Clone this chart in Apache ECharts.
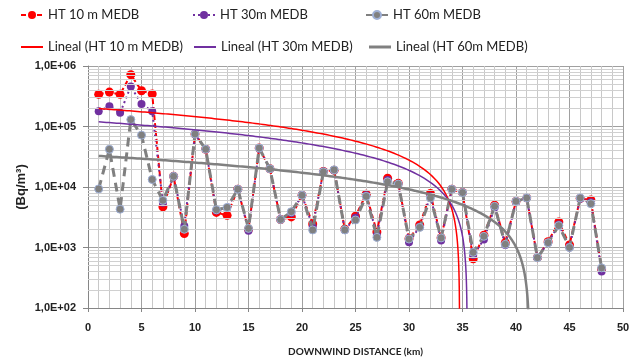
<!DOCTYPE html>
<html><head><meta charset="utf-8">
<script src="https://cdn.jsdelivr.net/npm/echarts@6/dist/echarts.min.js"></script>
<style>html,body{margin:0;padding:0;background:#fff}#c{width:638px;height:358px}</style>
</head><body><div id="c"></div>
<script>
// ---- data ----
const distance = [1,2,3,4,5,6,7,8,9,10,11,12,13,14,15,16,17,18,19,20,21,22,23,24,25,26,27,28,29,30,31,32,33,34,35,36,37,38,39,40,41,42,43,44,45,46,47,48];
const ht10 = [3.4e5,3.7e5,3.4e5,7.2e5,3.9e5,3.45e5,4.7e3,1.5e4,1.7e3,7.5e4,4.2e4,3.8e3,3.4e3,9.2e3,2.0e3,4.4e4,2.0e4,2.9e3,3.2e3,7.3e3,2.45e3,1.8e4,1.9e4,2.0e3,3.3e3,7.6e3,1.8e3,1.4e4,1.15e4,1.4e3,2.35e3,7.8e3,1.45e3,9.2e3,8.1e3,6.5e2,1.6e3,5.0e3,1.2e3,5.8e3,6.6e3,6.8e2,1.25e3,2.65e3,1.1e3,6.5e3,6.1e3,4.4e2];
const ht30 = [1.79e5,2.16e5,1.68e5,4.6e5,2.36e5,1.79e5,5.5e3,1.5e4,2.26e3,7.5e4,4.2e4,4.1e3,4.5e3,9.2e3,1.9e3,4.4e4,2.0e4,2.9e3,3.7e3,7.3e3,2.2e3,1.8e4,1.9e4,1.95e3,3.1e3,7.3e3,1.6e3,1.3e4,1.12e4,1.22e3,2.2e3,7.0e3,1.3e3,9.2e3,8.1e3,7.5e2,1.35e3,4.6e3,1.1e3,5.6e3,6.6e3,6.8e2,1.2e3,2.4e3,1.0e3,6.4e3,5.6e3,4.0e2];
const ht60 = [9.3e3,4.2e4,4.3e3,1.3e5,7.2e4,1.33e4,6.0e3,1.5e4,2.0e3,7.5e4,4.2e4,4.2e3,4.6e3,9.2e3,2.07e3,4.4e4,2.0e4,2.9e3,3.9e3,7.3e3,1.95e3,1.78e4,1.92e4,1.95e3,2.85e3,7.0e3,1.47e3,1.22e4,1.12e4,1.38e3,2.15e3,6.6e3,1.44e3,9.2e3,8.1e3,8.3e2,1.53e3,4.8e3,1.13e3,5.8e3,6.6e3,6.8e2,1.2e3,2.3e3,1.0e3,6.6e3,5.3e3,4.6e2];
const seriesNames = ['HT 10 m MEDB','HT 30m MEDB','HT 60m MEDB'];
const trendNames = ['Lineal (HT 10 m MEDB)','Lineal (HT 30m MEDB)','Lineal (HT 60m MEDB)'];
const xTicks = [0,5,10,15,20,25,30,35,40,45,50];
const yTicks = [1e2,1e3,1e4,1e5,1e6];

// ---- helpers ----
const FONT = "'Liberation Sans',Arial,sans-serif";
const LFONT = "Lato,'Liberation Sans',sans-serif";
function linreg(xs, ys){
  const n = xs.length;
  let sx=0, sy=0, sxx=0, sxy=0;
  for (let i=0;i<n;i++){ sx+=xs[i]; sy+=ys[i]; sxx+=xs[i]*xs[i]; sxy+=xs[i]*ys[i]; }
  const b = (n*sxy - sx*sy)/(n*sxx - sx*sx);
  const a = (sy - b*sx)/n;
  return {a, b};
}
function trendPoints(xs, ys){
  const {a,b} = linreg(xs, ys);
  const pts = [];
  const x0 = xs[0], x1 = xs[xs.length-1];
  for (let x = x0; x <= x1 + 1e-9; x += 0.02){
    const y = a + b*x;
    if (y <= 1) break;
    pts.push([x, y]);
  }
  const xz = (1 - a)/b;
  if (b < 0 && xz < x1) pts.push([xz, 1]);
  return pts;
}
const pair = arr => distance.map((d,i)=>[d, arr[i]]);

// minor horizontal gridlines at 2..9 of every decade
const minorY = [];
for (let e = 2; e < 6; e++) for (let m = 2; m <= 9; m++) minorY.push({yAxis: m*Math.pow(10,e)});

const colors = ['#FF0000','#7030A0','#808080'];
const chart = echarts.init(document.getElementById('c'));

const LTEXT = {fontFamily:LFONT, fontSize:13, color:'#222', lineHeight:16};
function legendAt(name, left, top){
  return {data:[name], left, top, padding:0, itemWidth:22, itemHeight:10, itemGap:4, textStyle:LTEXT};
}
function trendLegendAt(name, left, top, h){
  return {data:[{name, icon:'rect'}], left, top, padding:0, itemWidth:22, itemHeight:h, itemGap:4, textStyle:LTEXT};
}

chart.setOption({
  animation:false,
  backgroundColor:'#fff',
  legend:[
    legendAt(seriesNames[0], 20, 7),
    legendAt(seriesNames[1], 192, 7),
    legendAt(seriesNames[2], 365, 7),
    trendLegendAt(trendNames[0], 21, 39, 2),
    trendLegendAt(trendNames[1], 194, 39, 2),
    trendLegendAt(trendNames[2], 369, 39, 3)
  ],
  grid:{left:88, right:15, top:66, bottom:50, outerBoundsMode:'none', containLabel:false},
  xAxis:{
    type:'value', min:0, max:50, interval:5,
    name:'DOWNWIND DISTANCE (km)', nameLocation:'middle', nameGap:39, nameMoveOverlap:false,
    nameTextStyle:{fontFamily:LFONT, fontSize:10, fontWeight:'bold', color:'#222'},
    axisLine:{show:true, onZero:false, lineStyle:{color:'#868686'}},
    axisTick:{show:true, length:4, lineStyle:{color:'#868686'}},
    axisLabel:{fontFamily:FONT, fontSize:11, fontWeight:'bold', color:'#222', margin:14},
    splitLine:{show:true, lineStyle:{color:'#A0A0A0', width:1}},
    minorTick:{show:false, splitNumber:5},
    minorSplitLine:{show:true, lineStyle:{color:'#C8C8C8', width:1}}
  },
  yAxis:{
    type:'log', logBase:10, min:100, max:1e6,
    name:'(Bq/m³)', nameLocation:'middle', nameGap:60, nameRotate:90, nameMoveOverlap:false,
    nameTextStyle:{fontFamily:FONT, fontSize:13, fontWeight:'bold', color:'#222'},
    axisLine:{show:true, lineStyle:{color:'#868686'}},
    axisTick:{show:true, length:5, lineStyle:{color:'#868686'}},
    axisLabel:{fontFamily:FONT, fontSize:11, fontWeight:'bold', color:'#222', margin:12,
      formatter: v => { const e = Math.round(Math.log10(v)); return '1,0E+' + String(e).padStart(2,'0'); }},
    splitLine:{show:true, lineStyle:{color:'#A0A0A0', width:1}}
  },
  series:[
    {type:'line', name:'_grid', data:[], z:1, silent:true,
      markLine:{silent:true, symbol:['none','none'], label:{show:false}, animation:false,
        lineStyle:{color:'#D0D0D0', type:'solid', width:1}, emphasis:{disabled:true}, data:minorY}},
    {type:'line', name:seriesNames[0], data:pair(ht10), z:3,
      symbol:'circle', symbolSize:9, itemStyle:{color:colors[0]},
      lineStyle:{color:colors[0], width:2, type:[5,3]}},
    {type:'line', name:seriesNames[1], data:pair(ht30), z:4,
      symbol:'circle', symbolSize:8, itemStyle:{color:colors[1]},
      lineStyle:{color:colors[1], width:2, type:[2,3]}},
    {type:'line', name:seriesNames[2], data:pair(ht60), z:5,
      symbol:'circle', symbolSize:8, itemStyle:{color:colors[2], borderColor:'#9FB0D6', borderWidth:1},
      lineStyle:{color:colors[2], width:3, type:[9,6]}},
    {type:'line', name:trendNames[0], data:trendPoints(distance, ht10), z:6,
      showSymbol:false, symbol:'none', clip:true, itemStyle:{color:colors[0]},
      lineStyle:{color:colors[0], width:1.5}},
    {type:'line', name:trendNames[1], data:trendPoints(distance, ht30), z:6,
      showSymbol:false, symbol:'none', clip:true, itemStyle:{color:colors[1]},
      lineStyle:{color:colors[1], width:1.5}},
    {type:'line', name:trendNames[2], data:trendPoints(distance, ht60), z:6,
      showSymbol:false, symbol:'none', clip:true, itemStyle:{color:colors[2]},
      lineStyle:{color:colors[2], width:2.5}}
  ]
});
</script></body></html>
